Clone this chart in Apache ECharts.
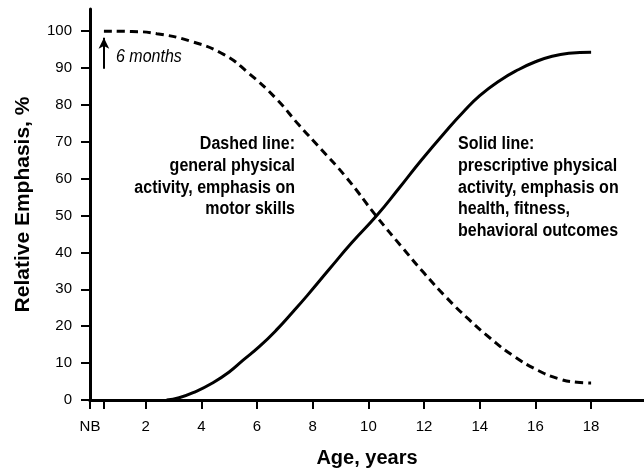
<!DOCTYPE html>
<html>
<head>
<meta charset="utf-8">
<script src="https://cdn.jsdelivr.net/npm/echarts@6.0.0/dist/echarts.min.js"></script>
<style>
  html, body { margin: 0; padding: 0; background: #fff; }
  #chart { width: 644px; height: 473px; }
</style>
</head>
<body>
<div id="chart"></div>
<script>
// 数据：年龄（岁）与相对侧重（%）
const dashedAges = [0.5, 1.5, 2.4, 3.6, 4.8, 5.7, 6.7, 7.5, 8.3, 9.2, 10.3, 11.2, 12.0, 12.8, 13.6, 14.4, 15.2, 16.1, 16.9, 17.5, 18.0];
const dashedValues = [100, 99.9, 99.3, 97.3, 93.7, 88.6, 81.6, 74.6, 68, 60.4, 49.7, 41.5, 34.4, 27.8, 21.9, 16.6, 12, 8, 5.6, 4.8, 4.6];
const solidAges = [2.75, 3.2, 3.8, 4.4, 5.0, 5.5, 6.1, 6.7, 7.3, 7.8, 8.6, 9.4, 10.3, 11.1, 11.9, 12.8, 13.4, 14.0, 14.7, 15.4, 16.0, 16.6, 17.2, 18.0];
const solidValues = [0, 0.6, 2.3, 4.6, 7.6, 10.8, 14.6, 19, 24, 28.3, 35.5, 42.6, 50, 57.4, 65, 73, 78, 82.5, 86.5, 89.6, 91.7, 93.2, 94, 94.3];

// 坐标轴刻度
const xTicks = [0, 0.5, 2, 4, 6, 8, 10, 12, 14, 16, 18];
const xLabels = [0, 2, 4, 6, 8, 10, 12, 14, 16, 18];
const yTicks = [0, 10, 20, 30, 40, 50, 60, 70, 80, 90, 100];

// "6 months" 箭头
const arrowFrom = [0.5, 89.8];
const arrowTo = [0.5, 98.2];

const FONT = "'Liberation Sans', Arial, Helvetica, sans-serif";

const zip = (xs, ys) => xs.map((x, i) => [x, ys[i]]);

// 注释文字（稍微拉高，接近原图的窄体字）
const note = (x, y, text, extra) => ({
    type: "text",
    x: x,
    y: y,
    scaleY: 1.13,
    style: Object.assign(
        {
            text: text,
            fontFamily: FONT,
            fontSize: 16,
            fontWeight: "bold",
            lineHeight: 19.3,
            fill: "#000",
            verticalAlign: "top",
        },
        extra
    ),
});

const chart = echarts.init(document.getElementById("chart"));
chart.setOption({
    animation: false,
    grid: { left: 90, right: 0, top: 9, bottom: 73 },
    xAxis: [
        {
            type: "value",
            min: 0,
            max: 19.9,
            name: "Age, years",
            nameLocation: "middle",
            nameGap: 48,
            nameTextStyle: { fontFamily: FONT, fontSize: 20, fontWeight: "bold", color: "#000" },
            axisLine: { onZero: false, lineStyle: { color: "#000", width: 3 } },
            axisTick: { customValues: xTicks, length: 9, lineStyle: { color: "#000", width: 2 } },
            axisLabel: {
                customValues: xLabels,
                margin: 19,
                fontFamily: FONT,
                fontSize: 15,
                color: "#000",
                formatter: (v) => (v === 0 ? "NB" : String(v)),
            },
            splitLine: { show: false },
        },
        {
            // 顶部边框
            type: "value",
            position: "top",
            min: 0,
            max: 19.9,
            axisLine: { show: true, lineStyle: { color: "#000", width: 3 } },
            axisTick: { show: false },
            axisLabel: { show: false },
            splitLine: { show: false },
        },
    ],
    yAxis: {
        type: "value",
        min: 0,
        max: 106,
        name: "Relative Emphasis, %",
        nameLocation: "middle",
        nameGap: 56,
        nameTextStyle: { fontFamily: FONT, fontSize: 21, fontWeight: "bold", color: "#000" },
        axisLine: { show: true, onZero: false, lineStyle: { color: "#000", width: 3 } },
        axisTick: { customValues: yTicks, length: 9, lineStyle: { color: "#000", width: 2 } },
        axisLabel: { customValues: yTicks, margin: 18, fontFamily: FONT, fontSize: 15, color: "#000" },
        splitLine: { show: false },
    },
    series: [
        {
            name: "general physical activity",
            type: "line",
            smooth: 0.5,
            symbol: "none",
            data: zip(dashedAges, dashedValues),
            lineStyle: { color: "#000", width: 3, type: [8, 5] },
            markLine: {
                silent: true,
                symbol: ["none", "arrow"],
                symbolSize: [8, 11],
                label: { show: false },
                lineStyle: { color: "#000", width: 2, type: "solid" },
                data: [[{ coord: arrowFrom }, { coord: arrowTo }]],
            },
        },
        {
            name: "prescriptive physical activity",
            type: "line",
            smooth: 0.5,
            symbol: "none",
            data: zip(solidAges, solidValues),
            lineStyle: { color: "#000", width: 3 },
        },
    ],
    graphic: [
        {
            type: "text",
            x: 116,
            y: 57,
            scaleY: 1.12,
            style: {
                text: "6 months",
                fontFamily: FONT,
                fontSize: 16,
                fontStyle: "italic",
                fill: "#000",
                verticalAlign: "middle",
            },
        },
        note(295, 133, "Dashed line:\ngeneral physical\nactivity, emphasis on\nmotor skills", { align: "right" }),
        note(458, 133, "Solid line:\nprescriptive physical\nactivity, emphasis on\nhealth, fitness,\nbehavioral outcomes", { align: "left" }),
    ],
});
window.addEventListener("resize", () => chart.resize());
</script>
</body>
</html>
